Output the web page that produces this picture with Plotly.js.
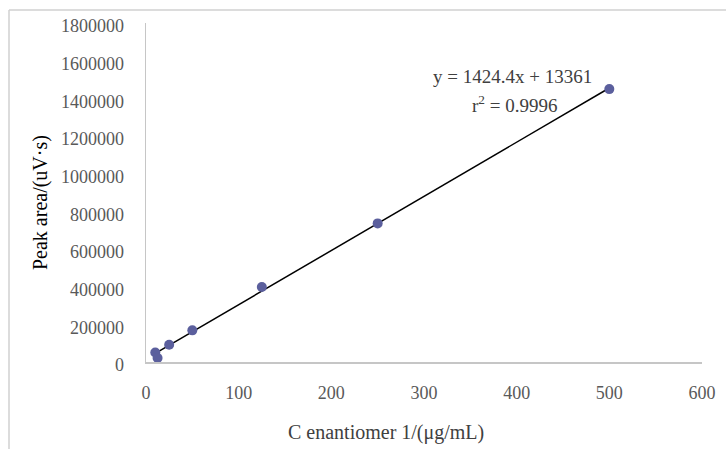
<!DOCTYPE html>
<html>
<head>
<meta charset="utf-8">
<script src="https://cdn.plot.ly/plotly-3.0.1.min.js"></script>
<style>
  html, body { margin: 0; padding: 0; background: #ffffff; overflow: hidden; }
  #chart { width: 726px; height: 449px; }
</style>
</head>
<body>
<div id="chart"></div>
<script>
// Calibration data for enantiomer 1
const concentration = [10, 12.5, 25, 50, 125, 250, 500];                  // μg/mL
const peakArea = [50000, 21000, 92000, 168000, 398000, 736000, 1449000];   // uV·s

// Regression text shown on the chart
const equationText = "y = 1424.4x + 13361";
const rSquaredText = "0.9996";

const xTicks = [0, 100, 200, 300, 400, 500, 600];
const yTicks = [0, 200000, 400000, 600000, 800000, 1000000, 1200000, 1400000, 1600000, 1800000];

// Least-squares trendline through the plotted points
function linearFit(xs, ys) {
  const n = xs.length;
  const mx = xs.reduce((a, b) => a + b, 0) / n;
  const my = ys.reduce((a, b) => a + b, 0) / n;
  let sxy = 0, sxx = 0;
  for (let i = 0; i < n; i++) {
    sxy += (xs[i] - mx) * (ys[i] - my);
    sxx += (xs[i] - mx) * (xs[i] - mx);
  }
  const m = sxy / sxx;
  return { m: m, b: my - m * mx };
}
const fit = linearFit(concentration, peakArea);
const fitX = [Math.min(...concentration), Math.max(...concentration)];
const fitY = fitX.map(v => fit.m * v + fit.b);

const serif = "Liberation Serif, Times New Roman, serif";

const traces = [
  {
    x: fitX, y: fitY,
    mode: "lines",
    line: { color: "#000000", width: 1.5 },
    hoverinfo: "skip",
    showlegend: false
  },
  {
    x: concentration, y: peakArea,
    mode: "markers",
    marker: { color: "#5b5f9d", size: 10 },
    showlegend: false
  }
];

const layout = {
  width: 726, height: 449,
  margin: { l: 146, r: 24, t: 23, b: 87 },
  paper_bgcolor: "rgba(0,0,0,0)",
  plot_bgcolor: "rgba(0,0,0,0)",
  font: { family: serif, size: 18, color: "#595959" },
  showlegend: false,
  xaxis: {
    range: [0, 600],
    tickvals: xTicks,
    ticktext: xTicks.map(String),
    showgrid: false, zeroline: false,
    showline: true, linecolor: "#c6c6c6", linewidth: 1.5,
    ticks: "",
    ticklabelstandoff: 14,
    tickfont: { family: serif, size: 18, color: "#595959" }
  },
  yaxis: {
    range: [0, 1800000],
    tickvals: yTicks,
    ticktext: yTicks.map(String),
    showgrid: false, zeroline: false,
    showline: true, linecolor: "#c6c6c6", linewidth: 1.5,
    ticks: "",
    ticklabelstandoff: 17,
    ticklabelshift: 3,
    tickfont: { family: serif, size: 18, color: "#595959" }
  },
  annotations: [
    // axis titles
    {
      xref: "paper", yref: "paper", x: 0.4317, y: -0.2065,
      text: "C enantiomer 1/(μg/mL)",
      showarrow: false, xanchor: "center", yanchor: "middle",
      font: { family: serif, size: 20, color: "#404040" }
    },
    {
      xref: "paper", yref: "paper", x: -0.1906, y: 0.469,
      text: "Peak area/(uV·s)", textangle: -90,
      showarrow: false, xanchor: "center", yanchor: "middle",
      font: { family: serif, size: 20, color: "#000000" }
    },
    // regression text
    {
      xref: "x", yref: "y", x: 396, y: 1518000,
      text: equationText,
      showarrow: false, xanchor: "center", yanchor: "middle",
      font: { family: serif, size: 19, color: "#404040" }
    },
    {
      xref: "x", yref: "y", x: 398, y: 1368000,
      text: "r<sup>2</sup> = " + rSquaredText,
      showarrow: false, xanchor: "center", yanchor: "middle",
      font: { family: serif, size: 19, color: "#404040" }
    }
  ],
  shapes: [
    // outer chart frame (top and left edges)
    { type: "line", xref: "paper", yref: "paper",
      x0: -0.2464, x1: 1.06, y0: 1.0383, y1: 1.0383,
      line: { color: "#d0d0d0", width: 1.5 } },
    { type: "line", xref: "paper", yref: "paper",
      x0: -0.2464, x1: -0.2464, y0: 1.0383, y1: -0.3,
      line: { color: "#d0d0d0", width: 1.5 } }
  ]
};

Plotly.newPlot("chart", traces, layout, { displayModeBar: false, staticPlot: true });
</script>
</body>
</html>
